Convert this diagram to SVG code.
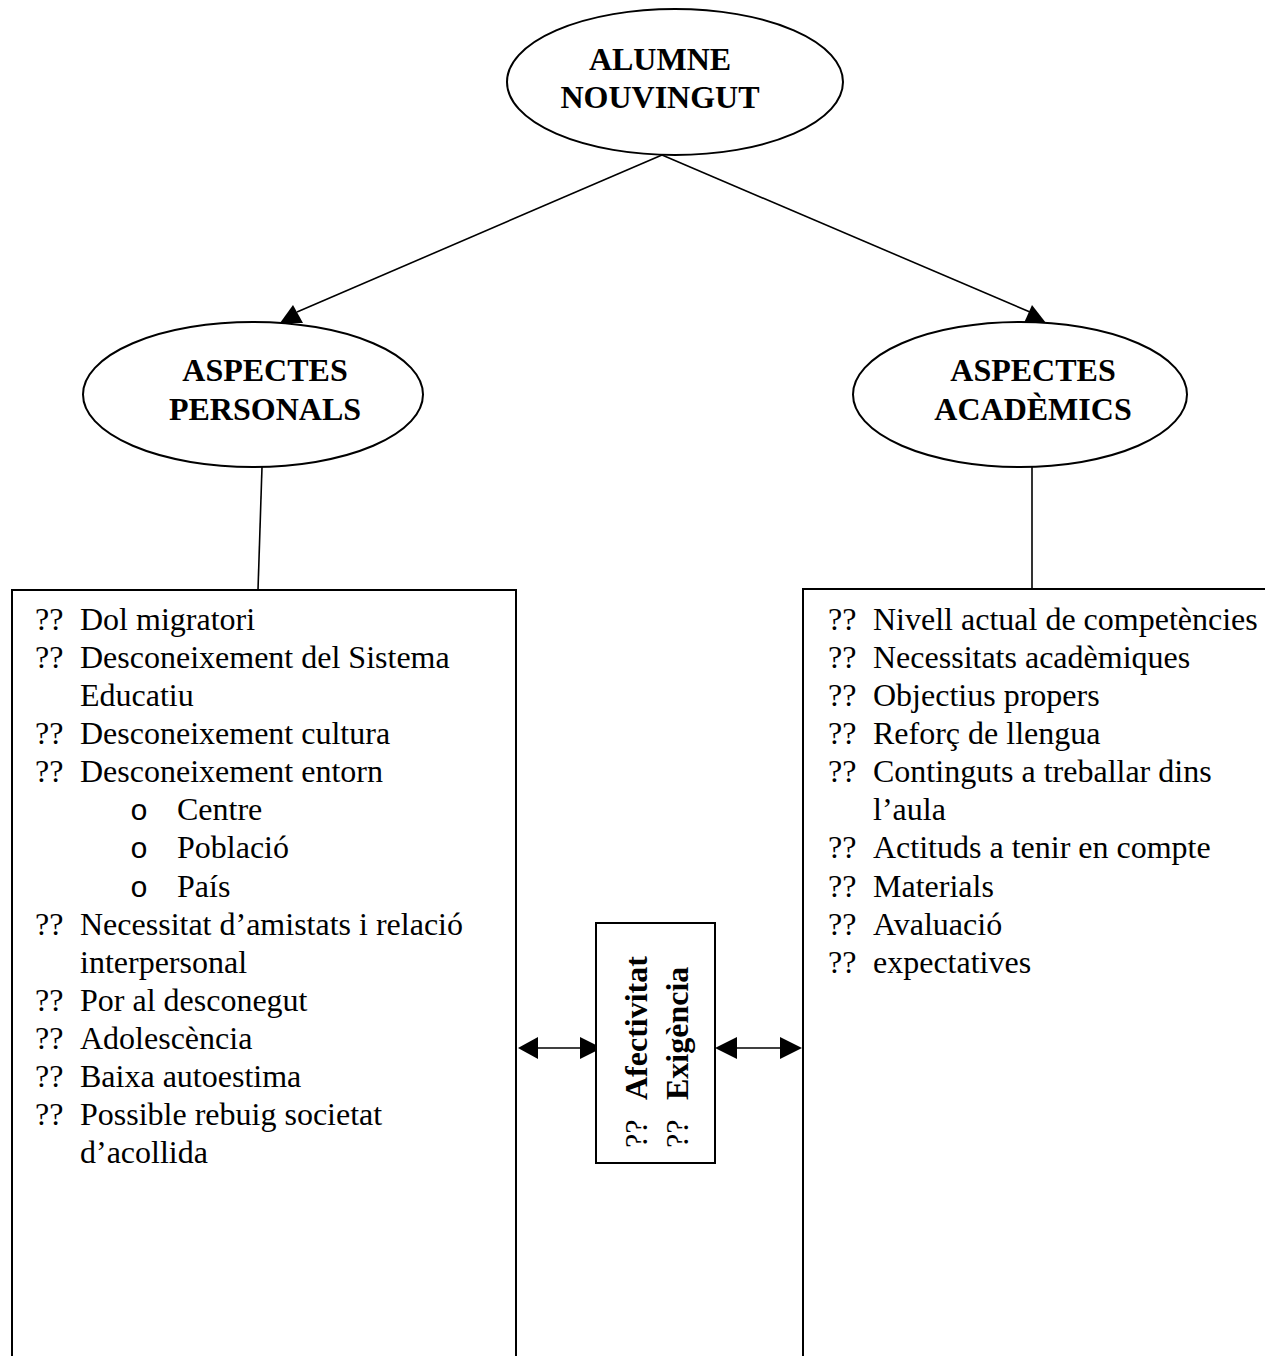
<svg xmlns="http://www.w3.org/2000/svg" width="1265" height="1356" viewBox="0 0 1265 1356">
<style>
.shape{fill:#fff;stroke:#000;stroke-width:2}
.conn{fill:none;stroke:#000;stroke-width:1.6}
.head{fill:#000;stroke:none}
.title{font-family:"Liberation Serif","Times New Roman",serif;font-size:32px;font-weight:bold;text-anchor:middle;fill:#000}
.item{font-family:"Liberation Serif","Times New Roman",serif;font-size:32px;fill:#000}
.sub{font-family:"Liberation Mono","Courier New",monospace;font-size:30px;fill:#000}
.bold{font-weight:bold}
</style>
<rect width="1265" height="1356" fill="#fff"/>
<g id="connectors">
  <line class="conn" x1="662" y1="155" x2="297" y2="312"/>
  <polygon class="head" points="293,305 280,323 303,323"/>
  <line class="conn" x1="662" y1="155" x2="1030" y2="312"/>
  <polygon class="head" points="1032,305 1024,323 1046,323"/>
  <line class="conn" x1="262" y1="467" x2="258" y2="590"/>
  <line class="conn" x1="1032" y1="467" x2="1032" y2="589"/>
  <line class="conn" x1="530" y1="1048" x2="590" y2="1048"/>
  <polygon class="head" points="518,1048 538,1037 538,1059"/>
  <polygon class="head" points="602,1048 580,1037 580,1059"/>
  <line class="conn" x1="725" y1="1048" x2="792" y2="1048"/>
  <polygon class="head" points="715,1048 737,1037 737,1059"/>
  <polygon class="head" points="802,1048 780,1037 780,1059"/>
</g>
<g id="alumne">
  <ellipse class="shape" cx="675" cy="82" rx="168" ry="73"/>
  <text class="title" x="660" y="70">ALUMNE</text>
  <text class="title" x="660" y="108">NOUVINGUT</text>
</g>
<g id="personals">
  <ellipse class="shape" cx="253" cy="394.5" rx="170" ry="72.5"/>
  <text class="title" x="265" y="381">ASPECTES</text>
  <text class="title" x="265" y="420">PERSONALS</text>
</g>
<g id="academics">
  <ellipse class="shape" cx="1020" cy="394.5" rx="167" ry="72.5"/>
  <text class="title" x="1033" y="381">ASPECTES</text>
  <text class="title" x="1033" y="420">ACADÈMICS</text>
</g>
<g id="llista-personal">
  <rect class="shape" x="12" y="590" width="504" height="800"/>
  <text class="item" x="35" y="630">??</text><text class="item" x="80" y="630">Dol migratori</text>
  <text class="item" x="35" y="668">??</text><text class="item" x="80" y="668">Desconeixement del Sistema</text>
  <text class="item" x="80" y="706">Educatiu</text>
  <text class="item" x="35" y="744">??</text><text class="item" x="80" y="744">Desconeixement cultura</text>
  <text class="item" x="35" y="782">??</text><text class="item" x="80" y="782">Desconeixement entorn</text>
  <text class="sub" x="130" y="820">o</text><text class="item" x="177" y="820">Centre</text>
  <text class="sub" x="130" y="858">o</text><text class="item" x="177" y="858">Població</text>
  <text class="sub" x="130" y="897">o</text><text class="item" x="177" y="897">País</text>
  <text class="item" x="35" y="935">??</text><text class="item" x="80" y="935">Necessitat d’amistats i relació</text>
  <text class="item" x="80" y="973">interpersonal</text>
  <text class="item" x="35" y="1011">??</text><text class="item" x="80" y="1011">Por al desconegut</text>
  <text class="item" x="35" y="1049">??</text><text class="item" x="80" y="1049">Adolescència</text>
  <text class="item" x="35" y="1087">??</text><text class="item" x="80" y="1087">Baixa autoestima</text>
  <text class="item" x="35" y="1125">??</text><text class="item" x="80" y="1125">Possible rebuig societat</text>
  <text class="item" x="80" y="1163">d’acollida</text>
</g>
<g id="llista-academica">
  <rect class="shape" x="803" y="589" width="520" height="800"/>
  <text class="item" x="828" y="630">??</text><text class="item" x="873" y="630">Nivell actual de competències</text>
  <text class="item" x="828" y="668">??</text><text class="item" x="873" y="668">Necessitats acadèmiques</text>
  <text class="item" x="828" y="706">??</text><text class="item" x="873" y="706">Objectius propers</text>
  <text class="item" x="828" y="744">??</text><text class="item" x="873" y="744">Reforç de llengua</text>
  <text class="item" x="828" y="782">??</text><text class="item" x="873" y="782">Continguts a treballar dins</text>
  <text class="item" x="873" y="820">l’aula</text>
  <text class="item" x="828" y="858">??</text><text class="item" x="873" y="858">Actituds a tenir en compte</text>
  <text class="item" x="828" y="897">??</text><text class="item" x="873" y="897">Materials</text>
  <text class="item" x="828" y="935">??</text><text class="item" x="873" y="935">Avaluació</text>
  <text class="item" x="828" y="973">??</text><text class="item" x="873" y="973">expectatives</text>
</g>
<g id="afectivitat-exigencia">
  <rect class="shape" x="596" y="923" width="119" height="240"/>
  <g transform="translate(647,1148) rotate(-90)">
    <text class="item" x="0" y="0">??</text><text class="item bold" x="48" y="0">Afectivitat</text>
  </g>
  <g transform="translate(688,1148) rotate(-90)">
    <text class="item" x="0" y="0">??</text><text class="item bold" x="48" y="0">Exigència</text>
  </g>
</g>
</svg>
